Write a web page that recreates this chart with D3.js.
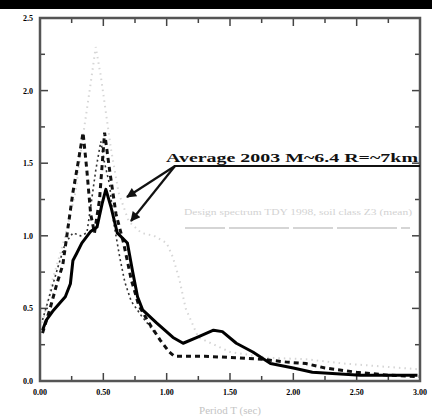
<!DOCTYPE html>
<html>
<head>
<meta charset="utf-8">
<script src="https://cdn.jsdelivr.net/npm/d3@7/dist/d3.min.js"></script>
<style>
  html, body { margin: 0; padding: 0; background: #fff; }
  svg { display: block; }
</style>
</head>
<body>
<svg id="chart" width="432" height="419"></svg>
<script>
// Spectral acceleration vs. period, four records
const periods_solid = [0.02,0.05,0.10,0.16,0.20,0.24,0.26,0.29,0.33,0.40,0.45,0.49,0.52,0.56,0.61,0.69,0.73,0.77,0.81,0.92,1.05,1.13,1.24,1.37,1.44,1.55,1.68,1.82,2.00,2.15,2.53,2.98];
const values_solid  = [0.35,0.42,0.48,0.54,0.58,0.67,0.83,0.88,0.95,1.03,1.06,1.22,1.32,1.20,1.02,0.95,0.76,0.58,0.49,0.40,0.30,0.26,0.30,0.35,0.34,0.26,0.20,0.12,0.09,0.06,0.04,0.04];

const periods_dash = [0.02,0.08,0.13,0.18,0.22,0.26,0.30,0.34,0.37,0.40,0.43,0.47,0.51,0.55,0.60,0.66,0.72,0.78,0.86,0.95,1.02,1.06,1.30,1.55,1.75,1.95,2.10,2.25,2.50,2.75,3.00];
const values_dash  = [0.33,0.50,0.66,0.80,1.05,1.30,1.50,1.71,1.45,1.15,1.02,1.25,1.71,1.45,1.15,0.95,0.70,0.52,0.40,0.28,0.20,0.17,0.17,0.16,0.15,0.13,0.12,0.09,0.06,0.04,0.03];

const periods_fine = [0.02,0.08,0.14,0.20,0.26,0.32,0.37,0.40,0.44,0.48,0.51,0.55,0.58,0.63,0.67,0.72,0.80,0.90];
const values_fine  = [0.42,0.60,0.78,0.95,1.02,1.00,1.02,1.20,1.45,1.65,1.50,1.35,1.10,0.85,0.68,0.55,0.45,0.34];

const periods_gray = [0.02,0.10,0.20,0.28,0.35,0.40,0.44,0.48,0.52,0.56,0.62,0.70,0.80,0.90,1.00,1.05,1.10,1.15,1.25,1.50,1.80,2.10,2.40,2.70,3.00];
const values_gray  = [0.40,0.70,1.00,1.30,1.75,2.05,2.30,2.10,1.85,1.60,1.30,1.10,1.02,1.00,0.95,0.85,0.70,0.50,0.30,0.20,0.16,0.15,0.12,0.10,0.08];

const xTicks = [0, 0.5, 1.0, 1.5, 2.0, 2.5, 3.0];
const yTicks = [0, 0.5, 1.0, 1.5, 2.0, 2.5];

const annotation = "Average 2003 M~6.4 R=~7km";
const grayLegend = "Design spectrum TDY 1998, soil class Z3 (mean)";
const xTitle = "Period T (sec)";

const svg = d3.select("#chart");
const x = d3.scaleLinear().domain([0, 3]).range([40, 420]);
const y = d3.scaleLinear().domain([0, 2.5]).range([381, 18]);

// dark band along the top edge
svg.append("rect").attr("x", 0).attr("y", 0).attr("width", 432).attr("height", 9).attr("fill", "#000");

const minorX = d3.range(0, 3.001, 0.25);
const minorY = d3.range(0, 2.501, 0.25);
const isMajor = v => Math.abs(v * 2 - Math.round(v * 2)) < 1e-6;

// inward ticks on all four sides
const tickG = svg.append("g").attr("stroke", "#444").attr("stroke-width", 1.5);
minorX.forEach(v => {
  const len = isMajor(v) ? 8 : 5;
  tickG.append("line").attr("x1", x(v)).attr("x2", x(v)).attr("y1", y(0)).attr("y2", y(0) - len);
  tickG.append("line").attr("x1", x(v)).attr("x2", x(v)).attr("y1", y(2.5)).attr("y2", y(2.5) + len);
});
minorY.forEach(v => {
  const len = isMajor(v) ? 8 : 5;
  tickG.append("line").attr("y1", y(v)).attr("y2", y(v)).attr("x1", x(0)).attr("x2", x(0) + len);
  tickG.append("line").attr("y1", y(v)).attr("y2", y(v)).attr("x1", x(3)).attr("x2", x(3) - len);
});

// tick labels
svg.append("g").selectAll("text").data(yTicks).join("text")
  .attr("x", 33).attr("y", d => y(d) + 3)
  .attr("text-anchor", "end")
  .attr("font-family", "Liberation Serif, serif").attr("font-weight", "bold").attr("font-size", 8)
  .attr("fill", "#000")
  .text(d => d.toFixed(1));

svg.append("g").selectAll("text").data(xTicks).join("text")
  .attr("x", d => x(d)).attr("y", 395)
  .attr("text-anchor", "middle")
  .attr("font-family", "Liberation Serif, serif").attr("font-weight", "bold").attr("font-size", 8)
  .attr("fill", "#000")
  .text(d => d.toFixed(2));

svg.append("text").attr("x", 230).attr("y", 414).attr("text-anchor", "middle")
  .attr("font-family", "Liberation Serif, serif").attr("font-size", 11).attr("fill", "#c4c4c4")
  .text(xTitle);

const line = d3.line().x(d => x(d[0])).y(d => y(d[1]));
const zip = (a, b) => a.map((v, i) => [v, b[i]]);

// curves
svg.append("path").datum(zip(periods_gray, values_gray)).attr("d", line)
  .attr("fill", "none").attr("stroke", "#d6d6d6").attr("stroke-width", 2).attr("stroke-dasharray", "1.5,4");
svg.append("path").datum(zip(periods_fine, values_fine)).attr("d", line)
  .attr("fill", "none").attr("stroke", "#333").attr("stroke-width", 1.6).attr("stroke-dasharray", "2,3");
svg.append("path").datum(zip(periods_dash, values_dash)).attr("d", line)
  .attr("fill", "none").attr("stroke", "#111").attr("stroke-width", 3).attr("stroke-dasharray", "5,4");
svg.append("path").datum(zip(periods_solid, values_solid)).attr("d", line)
  .attr("fill", "none").attr("stroke", "#000").attr("stroke-width", 3).attr("stroke-linejoin", "round");

// frame
svg.append("rect").attr("x", x(0)).attr("y", y(2.5)).attr("width", x(3) - x(0)).attr("height", y(0) - y(2.5))
  .attr("fill", "none").attr("stroke", "#555").attr("stroke-width", 2.5);

// gray legend entry
svg.append("text").attr("x", 184).attr("y", 215)
  .attr("font-family", "Liberation Serif, serif").attr("font-size", 9).attr("fill", "#d2d2d2")
  .attr("textLength", 228).attr("lengthAdjust", "spacingAndGlyphs")
  .text(grayLegend);
svg.append("line").attr("x1", 185).attr("x2", 410).attr("y1", 228).attr("y2", 228)
  .attr("stroke", "#c8c8c8").attr("stroke-width", 1.5).attr("stroke-dasharray", "40,4,60,4");

// annotation with leader arrows
svg.append("text").attr("x", 166).attr("y", 162)
  .attr("font-family", "Liberation Serif, serif").attr("font-weight", "bold").attr("font-size", 13)
  .attr("fill", "#111")
  .attr("textLength", 252).attr("lengthAdjust", "spacingAndGlyphs")
  .text(annotation);
svg.append("line").attr("x1", 174).attr("x2", 420).attr("y1", 166).attr("y2", 166)
  .attr("stroke", "#111").attr("stroke-width", 2);

svg.append("defs").append("marker").attr("id", "ah")
  .attr("viewBox", "0 0 10 10").attr("refX", 9).attr("refY", 5)
  .attr("markerWidth", 6).attr("markerHeight", 4.5).attr("orient", "auto")
  .append("path").attr("d", "M0,0 L10,5 L0,10 Z").attr("fill", "#111");

[[127, 197], [131, 221]].forEach(([tx, ty]) => {
  svg.append("line").attr("x1", 175).attr("y1", 166).attr("x2", tx).attr("y2", ty)
    .attr("stroke", "#111").attr("stroke-width", 2.2).attr("marker-end", "url(#ah)");
});
</script>
</body>
</html>
